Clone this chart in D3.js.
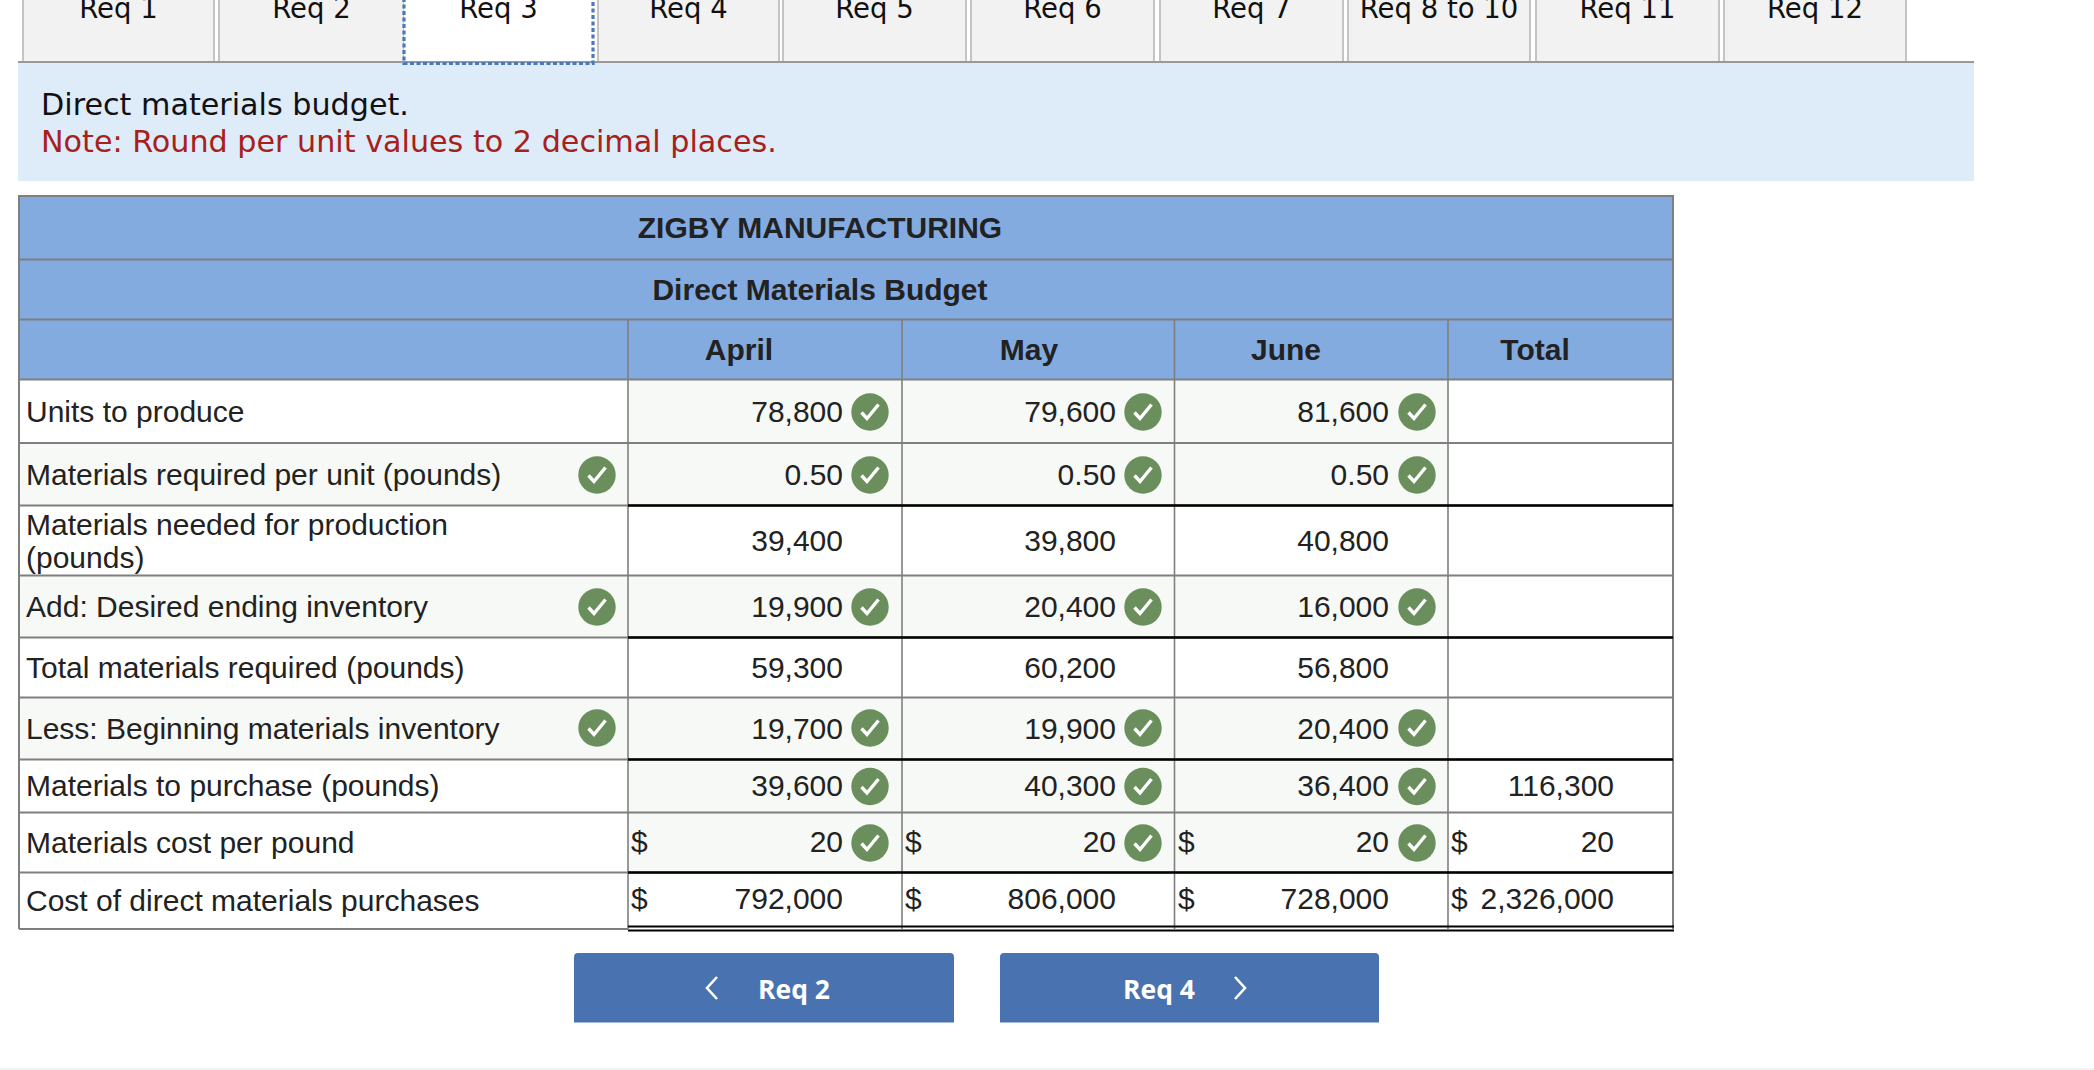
<!DOCTYPE html>
<html>
<head>
<meta charset="utf-8">
<script src="https://cdn.jsdelivr.net/npm/d3@7"></script>
<style>
  html, body { margin: 0; padding: 0; background: #fff; }
  svg { display: block; }
  text { font-family: "Liberation Sans", Arial, sans-serif; fill: #222; }
</style>
</head>
<body>
<div id="chart"></div>
<script>
var tabLabels = ["Req 1", "Req 2", "Req 3", "Req 4", "Req 5", "Req 6", "Req 7", "Req 8 to 10", "Req 11", "Req 12"];
var activeTab = "Req 3";

var promptText = "Direct materials budget.";
var noteText = "Note: Round per unit values to 2 decimal places.";

var companyName = "ZIGBY MANUFACTURING";
var budgetTitle = "Direct Materials Budget";
var months = ["April", "May", "June", "Total"];

var rowLabels = [
    ["Units to produce"],
    ["Materials required per unit (pounds)"],
    ["Materials needed for production", "(pounds)"],
    ["Add: Desired ending inventory"],
    ["Total materials required (pounds)"],
    ["Less: Beginning materials inventory"],
    ["Materials to purchase (pounds)"],
    ["Materials cost per pound"],
    ["Cost of direct materials purchases"]
];

var aprilValues = [78800, 0.5, 39400, 19900, 59300, 19700, 39600, 20, 792000];
var mayValues = [79600, 0.5, 39800, 20400, 60200, 19900, 40300, 20, 806000];
var juneValues = [81600, 0.5, 40800, 16000, 56800, 20400, 36400, 20, 728000];
var totalValues = [null, null, null, null, null, null, 116300, 20, 2326000];

var checkedValueRows = [0, 1, 3, 5, 6, 7];
var checkedLabelRows = [1, 3, 5];
var dollarRows = [7, 8];
var blackLineRows = [1, 3, 5, 7];

var svgWidth = 2094;
var svgHeight = 1070;

// layout
var tabEdges = [[23, 214], [219, 404], [404, 593], [598, 779], [783, 966], [971, 1154], [1160, 1343], [1348, 1530], [1536, 1719], [1724, 1906]];
var rowEdges = [379.5, 443, 505.5, 575.5, 637.5, 697.5, 759.5, 812.5, 872.5, 929];
var valueBaselines = [422, 485, 551, 617, 678, 739, 796, 852, 909];
var labelBaselines = [[422], [485], [535, 568], [617], [678], [739], [796], [853], [911]];
var checkY = [412, 475, 541, 607, 668, 728, 786.5, 843, 899];
var colEdges = [628, 902, 1174.5, 1448, 1673];
var tableLeft = 19, tableTop = 196, tableRight = 1673, tableBottom = 929;
var gridColor = "#7f7f7f", headColor = "#83abe0", okFill = "#f6f9f5", checkColor = "#6a8f5c";

var colIndex = d3.scaleOrdinal().domain(months).range([0, 1, 2, 3]);
var valueRight = d3.scaleOrdinal().domain(months).range([843, 1116, 1389, 1614]);
var checkX = d3.scaleOrdinal().domain(months).range([870, 1143, 1417, 0]);
var dollarX = d3.scaleOrdinal().domain(months).range([631, 905, 1178, 1451]);
var headX = d3.scaleOrdinal().domain(months).range([739, 1029, 1286, 1535]);
var seriesFor = d3.scaleOrdinal().domain(months).range([aprilValues, mayValues, juneValues, totalValues]);

var svg = d3.select("#chart")
    .append("svg")
    .attr("width", svgWidth)
    .attr("height", svgHeight);

// tabs
var tabs = svg.selectAll("g.tab")
    .data(tabLabels)
    .enter()
    .append("g")
    .attr("class", "tab");

tabs.append("rect")
    .attr("x", (d, i) => tabEdges[i][0])
    .attr("y", -10)
    .attr("width", (d, i) => tabEdges[i][1] - tabEdges[i][0])
    .attr("height", 72)
    .attr("fill", d => d == activeTab ? "#fff" : "#f2f2f2")
    .attr("stroke", d => d == activeTab ? "none" : "#c4c4c4")
    .attr("stroke-width", 2);

tabs.append("text")
    .attr("x", (d, i) => (tabEdges[i][0] + tabEdges[i][1]) / 2)
    .attr("y", 18)
    .attr("text-anchor", "middle")
    .style("font-family", "'DejaVu Sans'")
    .style("font-size", "27.5px")
    .style("fill", "#111")
    .text(d => d);

// prompt panel
svg.append("rect")
    .attr("x", 18).attr("y", 62).attr("width", 1956).attr("height", 119)
    .attr("fill", "#deebf9");
svg.append("line")
    .attr("x1", 18).attr("x2", 1974).attr("y1", 62).attr("y2", 62)
    .attr("stroke", "#999").attr("stroke-width", 2);

// dotted border of the active tab goes over the panel line
var a = tabEdges[tabLabels.indexOf(activeTab)];
svg.append("path")
    .attr("d", `M${a[0]},-2V63.5H${a[1]}V-2`)
    .attr("fill", "none")
    .attr("stroke", "#4a78bd")
    .attr("stroke-width", 3.2)
    .attr("stroke-dasharray", "4,2.5");

svg.append("text")
    .attr("x", 41).attr("y", 115)
    .style("font-family", "'DejaVu Sans'").style("font-size", "30.2px").style("fill", "#111")
    .text(promptText);
svg.append("text")
    .attr("x", 41).attr("y", 152)
    .style("font-family", "'DejaVu Sans'").style("font-size", "30.2px").style("fill", "#a8201a")
    .text(noteText);

// table header
svg.append("rect")
    .attr("x", tableLeft).attr("y", tableTop)
    .attr("width", tableRight - tableLeft).attr("height", 184)
    .attr("fill", headColor);

svg.append("text")
    .attr("x", 820).attr("y", 238).attr("text-anchor", "middle")
    .style("font-size", "30px").style("font-weight", "bold")
    .text(companyName);
svg.append("text")
    .attr("x", 820).attr("y", 300).attr("text-anchor", "middle")
    .style("font-size", "30px").style("font-weight", "bold")
    .text(budgetTitle);

svg.selectAll("text.month")
    .data(months)
    .enter()
    .append("text")
    .attr("class", "month")
    .attr("x", d => headX(d))
    .attr("y", 360)
    .attr("text-anchor", "middle")
    .style("font-size", "30px").style("font-weight", "bold")
    .text(d => d);

// shaded cells behind answers
svg.selectAll("rect.labelCell")
    .data(checkedLabelRows)
    .enter()
    .append("rect")
    .attr("class", "labelCell")
    .attr("x", tableLeft).attr("width", colEdges[0] - tableLeft)
    .attr("y", d => rowEdges[d]).attr("height", d => rowEdges[d + 1] - rowEdges[d])
    .attr("fill", okFill);

months.slice(0, 3).forEach(function(month) {
    svg.selectAll("rect.cell" + month)
        .data(checkedValueRows)
        .enter()
        .append("rect")
        .attr("class", "cell" + month)
        .attr("x", colEdges[colIndex(month)])
        .attr("width", colEdges[colIndex(month) + 1] - colEdges[colIndex(month)])
        .attr("y", d => rowEdges[d]).attr("height", d => rowEdges[d + 1] - rowEdges[d])
        .attr("fill", okFill);
});

// grid
var hLines = [196, 259.5, 319.5].concat(rowEdges.slice(0, 9));
svg.selectAll("line.h")
    .data(hLines)
    .enter()
    .append("line")
    .attr("class", "h")
    .attr("x1", tableLeft).attr("x2", tableRight)
    .attr("y1", d => d).attr("y2", d => d)
    .attr("stroke", gridColor).attr("stroke-width", 2);

svg.append("line")
    .attr("x1", tableLeft).attr("x2", colEdges[0])
    .attr("y1", tableBottom).attr("y2", tableBottom)
    .attr("stroke", gridColor).attr("stroke-width", 2);

[tableLeft, tableRight].forEach(function(x) {
    svg.append("line")
        .attr("x1", x).attr("x2", x).attr("y1", tableTop - 1).attr("y2", tableBottom)
        .attr("stroke", gridColor).attr("stroke-width", 2);
});

svg.selectAll("line.v")
    .data(colEdges.slice(0, 4))
    .enter()
    .append("line")
    .attr("class", "v")
    .attr("x1", d => d).attr("x2", d => d)
    .attr("y1", 320).attr("y2", tableBottom)
    .attr("stroke", gridColor).attr("stroke-width", 1.6);

svg.selectAll("line.total")
    .data(blackLineRows)
    .enter()
    .append("line")
    .attr("class", "total")
    .attr("x1", colEdges[0]).attr("x2", tableRight)
    .attr("y1", d => rowEdges[d + 1]).attr("y2", d => rowEdges[d + 1])
    .attr("stroke", "#000").attr("stroke-width", 2.4);

[926.5, 930.5].forEach(function(y) {
    svg.append("line")
        .attr("x1", colEdges[0]).attr("x2", tableRight + 1)
        .attr("y1", y).attr("y2", y)
        .attr("stroke", "#000").attr("stroke-width", 2);
});

// row labels
rowLabels.forEach(function(lines, r) {
    svg.selectAll("text.label" + r)
        .data(lines)
        .enter()
        .append("text")
        .attr("class", "label" + r)
        .attr("x", 26)
        .attr("y", (d, i) => labelBaselines[r][i])
        .style("font-size", "30px")
        .text(d => d);
});

// values, check marks, dollar signs
var fmt = d3.format(",");
function valueText(v) { return v < 1 ? d3.format(".2f")(v) : fmt(v); }

function drawCheck(x, y) {
    var g = svg.append("g").attr("transform", `translate(${x},${y})`);
    g.append("circle").attr("r", 18.7).attr("fill", checkColor);
    g.append("path")
        .attr("d", "M-8.5,0.5L-3,6.5L8.5,-7.5")
        .attr("fill", "none")
        .attr("stroke", "#fff")
        .attr("stroke-width", 3.4);
}

months.forEach(function(month) {
    var values = seriesFor(month);

    svg.selectAll("text.val" + month)
        .data(values)
        .enter()
        .append("text")
        .attr("class", "val" + month)
        .attr("x", valueRight(month))
        .attr("y", (d, i) => valueBaselines[i])
        .attr("text-anchor", "end")
        .style("font-size", "30px")
        .text(d => d == null ? "" : valueText(d));

    svg.selectAll("text.usd" + month)
        .data(dollarRows)
        .enter()
        .append("text")
        .attr("class", "usd" + month)
        .attr("x", dollarX(month))
        .attr("y", d => valueBaselines[d])
        .style("font-size", "30px")
        .text("$");

    if (month != "Total") {
        checkedValueRows.forEach(r => drawCheck(checkX(month), checkY[r]));
    }
});

checkedLabelRows.forEach(r => drawCheck(597, checkY[r]));

// nav buttons
function drawButton(x0, x1, label, textX, chevron) {
    svg.append("path")
        .attr("d", `M${x0},1022.5V957Q${x0},953 ${x0 + 4},953H${x1 - 4}Q${x1},953 ${x1},957V1022.5Z`)
        .attr("fill", "#4872b0");
    svg.append("text")
        .attr("x", textX).attr("y", 998.5)
        .style("font-family", "'Open Sans'")
        .style("font-size", "26.5px").style("font-weight", "bold").style("fill", "#fff")
        .text(label);
    svg.append("path")
        .attr("d", chevron)
        .attr("fill", "none").attr("stroke", "#fff").attr("stroke-width", 2.6);
}
drawButton(574, 954, "Req 2", 758, "M717,977L707,988L717,999");
drawButton(1000, 1379, "Req 4", 1123, "M1235,977L1245,988L1235,999");

// bottom strip
svg.append("rect")
    .attr("x", 0).attr("y", 1068).attr("width", svgWidth).attr("height", 2)
    .attr("fill", "#f3f3f3");
</script>
</body>
</html>
